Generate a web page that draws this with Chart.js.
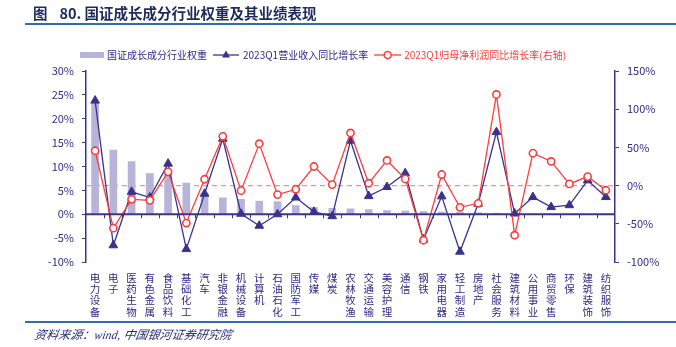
<!DOCTYPE html>
<html>
<head>
<meta charset="utf-8">
<script src="https://cdn.jsdelivr.net/npm/chart.js@4.4.0/dist/chart.umd.min.js"></script>
<style>
  body { margin: 0; background: #fff; }
  #wrap { position: relative; width: 676px; height: 347px; overflow: hidden; }
  #chart-box { position: absolute; left: 0; top: 0; width: 676px; height: 347px; }
  .title { position: absolute; left: 33px; top: 2px; font: bold 14.5px "Noto Sans CJK SC", sans-serif; color: #1f2a5c; white-space: nowrap; }
  .title .gap { display: inline-block; width: 12px; }
  .title-line { position: absolute; left: 25px; right: 0; top: 23px; height: 2px; background: #2f6ea8; }
  .foot-line { position: absolute; left: 25px; right: 0; top: 321px; height: 2px; background: #2f6ea8; }
  .source { position: absolute; left: 33px; top: 325px; font: italic 12px "Liberation Serif", "Noto Sans CJK SC", serif; color: #2a2a7a; white-space: nowrap; transform: skewX(-10deg); transform-origin: left bottom; }
</style>
</head>
<body>
<div id="wrap">
  <div id="chart-box"><canvas id="chart"></canvas></div>
  <div class="title">图<span class="gap"></span>80. 国证成长成分行业权重及其业绩表现</div>
  <div class="title-line"></div>
  <div class="foot-line"></div>
  <div class="source">资料来源：wind, 中国银河证券研究院</div>
</div>
<script>
const categories = ['电力设备', '电子', '医药生物', '有色金属', '食品饮料', '基础化工', '汽车', '非银金融',
  '机械设备', '计算机', '石油石化', '国防军工', '传媒', '煤炭', '农林牧渔', '交通运输', '美容护理', '通信',
  '钢铁', '家用电器', '轻工制造', '房地产', '社会服务', '建筑材料', '公用事业', '商贸零售', '环保', '建筑装饰', '纺织服饰'];

// index weight, %
const weight = [23.5, 13.5, 11.1, 8.6, 8.4, 6.6, 4.5, 3.5, 3.2, 2.8, 2.7, 1.9, 1.5, 1.3, 1.2,
  1.05, 0.85, 0.75, 0.65, 0.55, 0.45, 0.4, 0.3, 0.25, 0.2, 0.15, 0.12, 0.1, 0.08];

// 2023Q1 revenue yoy, % (left axis)
const revenue = [23.8, -6.5, 4.7, 3.5, 10.6, -7.3, 4.3, 15.8, 0.1, -2.4, 0.0, 3.5, 0.5, -0.4, 15.4,
  3.8, 5.7, 8.6, -5.3, 3.75, -7.85, 2.2, 17.2, 0.15, 3.6, 1.5, 1.9, 7.1, 3.6];

// 2023Q1 net profit yoy, % (right axis)
const profit = [45.6, -55.7, -18, -19.3, 18, -49, 8.3, 64.5, -6.6, 54.8, -11.8, -4.8, 25, 1.3, 68.9,
  3.1, 32.9, 8.8, -71.5, 14.5, -28.5, -23.2, 119.3, -64.9, 42.5, 31.6, 2.2, 11.8, -6.1];

const leftTicks = {min: -10, max: 30, step: 5};
const rightTicks = {min: -100, max: 150, step: 50};

const NAVY = '#39338f';
const TEXT = '#2e2a85';
const RED = '#ff3b3b';
const BAR = '#b7b3d9';
const FONT = '"Noto Sans CJK SC", sans-serif';

const decor = {
  id: 'decor',
  beforeDatasetsDraw(chart) {
    const {ctx, chartArea, scales} = chart;
    // red dashed reference at 0 of right axis
    const yr = scales.y1.getPixelForValue(0);
    ctx.save();
    ctx.strokeStyle = '#ff8a8a';
    ctx.lineWidth = 1.2;
    ctx.setLineDash([5, 4]);
    ctx.beginPath();
    ctx.moveTo(chartArea.left, yr);
    ctx.lineTo(chartArea.right, yr);
    ctx.stroke();
    ctx.restore();
  },
  afterDatasetsDraw(chart) {
    const {ctx, chartArea, scales} = chart;
    // category axis sitting on 0% of left axis
    const y0 = scales.y.getPixelForValue(0);
    ctx.save();
    ctx.strokeStyle = NAVY;
    ctx.lineWidth = 1.8;
    ctx.beginPath();
    ctx.moveTo(chartArea.left, y0);
    ctx.lineTo(chartArea.right, y0);
    ctx.stroke();
    ctx.lineWidth = 1;
    const n = categories.length;
    const w = (chartArea.right - chartArea.left) / n;
    ctx.beginPath();
    for (let i = 1; i < n; i++) {
      const x = Math.round(chartArea.left + i * w) + 0.5;
      ctx.moveTo(x, y0);
      ctx.lineTo(x, y0 + 4);
    }
    ctx.stroke();
    ctx.restore();
  },
  afterDraw(chart) {
    const ctx = chart.ctx;
    const ds = chart.data.datasets;
    const y = 55;
    let x = 80;
    ctx.save();
    ctx.font = '10px ' + FONT;
    ctx.textBaseline = 'middle';
    // bar item
    ctx.fillStyle = BAR;
    ctx.fillRect(x, y - 3, 24, 6);
    x += 27;
    ctx.fillStyle = TEXT;
    ctx.fillText(ds[0].label, x, y);
    x += ctx.measureText(ds[0].label).width + 6;
    // revenue line item
    ctx.strokeStyle = NAVY;
    ctx.lineWidth = 1.3;
    ctx.beginPath();
    ctx.moveTo(x, y);
    ctx.lineTo(x + 26, y);
    ctx.stroke();
    ctx.fillStyle = NAVY;
    ctx.beginPath();
    ctx.moveTo(x + 13, y - 4.5);
    ctx.lineTo(x + 17, y + 2.5);
    ctx.lineTo(x + 9, y + 2.5);
    ctx.closePath();
    ctx.fill();
    x += 30;
    ctx.fillStyle = TEXT;
    ctx.fillText(ds[1].label, x, y);
    x += ctx.measureText(ds[1].label).width + 6;
    // profit line item
    ctx.strokeStyle = RED;
    ctx.beginPath();
    ctx.moveTo(x, y);
    ctx.lineTo(x + 27, y);
    ctx.stroke();
    ctx.fillStyle = '#fff';
    ctx.lineWidth = 1.5;
    ctx.beginPath();
    ctx.arc(x + 13.5, y, 3.5, 0, Math.PI * 2);
    ctx.fill();
    ctx.stroke();
    x += 30;
    ctx.fillStyle = RED;
    ctx.fillText(ds[2].label, x, y);
    ctx.restore();
  }
};

new Chart(document.getElementById('chart'), {
  type: 'bar',
  data: {
    labels: categories.map(c => c.split('')),
    datasets: [
      {
        label: '国证成长成分行业权重',
        data: weight,
        yAxisID: 'y',
        backgroundColor: BAR,
        barPercentage: 0.42,
        categoryPercentage: 1,
        order: 3
      },
      {
        type: 'line',
        label: '2023Q1营业收入同比增长率',
        data: revenue,
        yAxisID: 'y',
        borderColor: NAVY,
        backgroundColor: NAVY,
        borderWidth: 1.3,
        pointStyle: 'triangle',
        pointRadius: 5,
        pointBorderWidth: 1,
        tension: 0,
        order: 2
      },
      {
        type: 'line',
        label: '2023Q1归母净利润同比增长率(右轴)',
        data: profit,
        yAxisID: 'y1',
        borderColor: RED,
        backgroundColor: '#fff',
        pointBackgroundColor: '#fff',
        borderWidth: 1.3,
        pointRadius: 3.6,
        pointBorderWidth: 1.6,
        tension: 0,
        order: 1
      }
    ]
  },
  options: {
    responsive: true,
    maintainAspectRatio: false,
    animation: false,
    devicePixelRatio: 1,
    layout: {padding: {top: 71, left: 0, right: 0, bottom: 0}},
    plugins: {legend: {display: false}, tooltip: {enabled: false}},
    scales: {
      x: {
        grid: {display: false},
        border: {display: false},
        ticks: {
          autoSkip: false, maxRotation: 0, minRotation: 0, padding: 2,
          color: TEXT, font: {family: FONT, size: 10.5, lineHeight: 1.08}
        },
        afterFit: s => { s.height = 85; }
      },
      y: {
        position: 'left',
        min: leftTicks.min, max: leftTicks.max,
        ticks: {stepSize: leftTicks.step, callback: v => v + '%', color: TEXT, padding: 8,
          font: {family: FONT, size: 11}},
        grid: {drawOnChartArea: false, tickLength: 4, color: NAVY, lineWidth: 1},
        border: {color: NAVY, width: 1.5},
        afterFit: s => { s.width = 86; }
      },
      y1: {
        position: 'right',
        min: rightTicks.min, max: rightTicks.max,
        ticks: {stepSize: rightTicks.step, callback: v => v + '%', color: TEXT, padding: 8,
          font: {family: FONT, size: 11}},
        grid: {drawOnChartArea: false, tickLength: 4, color: NAVY, lineWidth: 1},
        border: {color: NAVY, width: 1.5},
        afterFit: s => { s.width = 61; }
      }
    }
  },
  plugins: [decor]
});
</script>
</body>
</html>
